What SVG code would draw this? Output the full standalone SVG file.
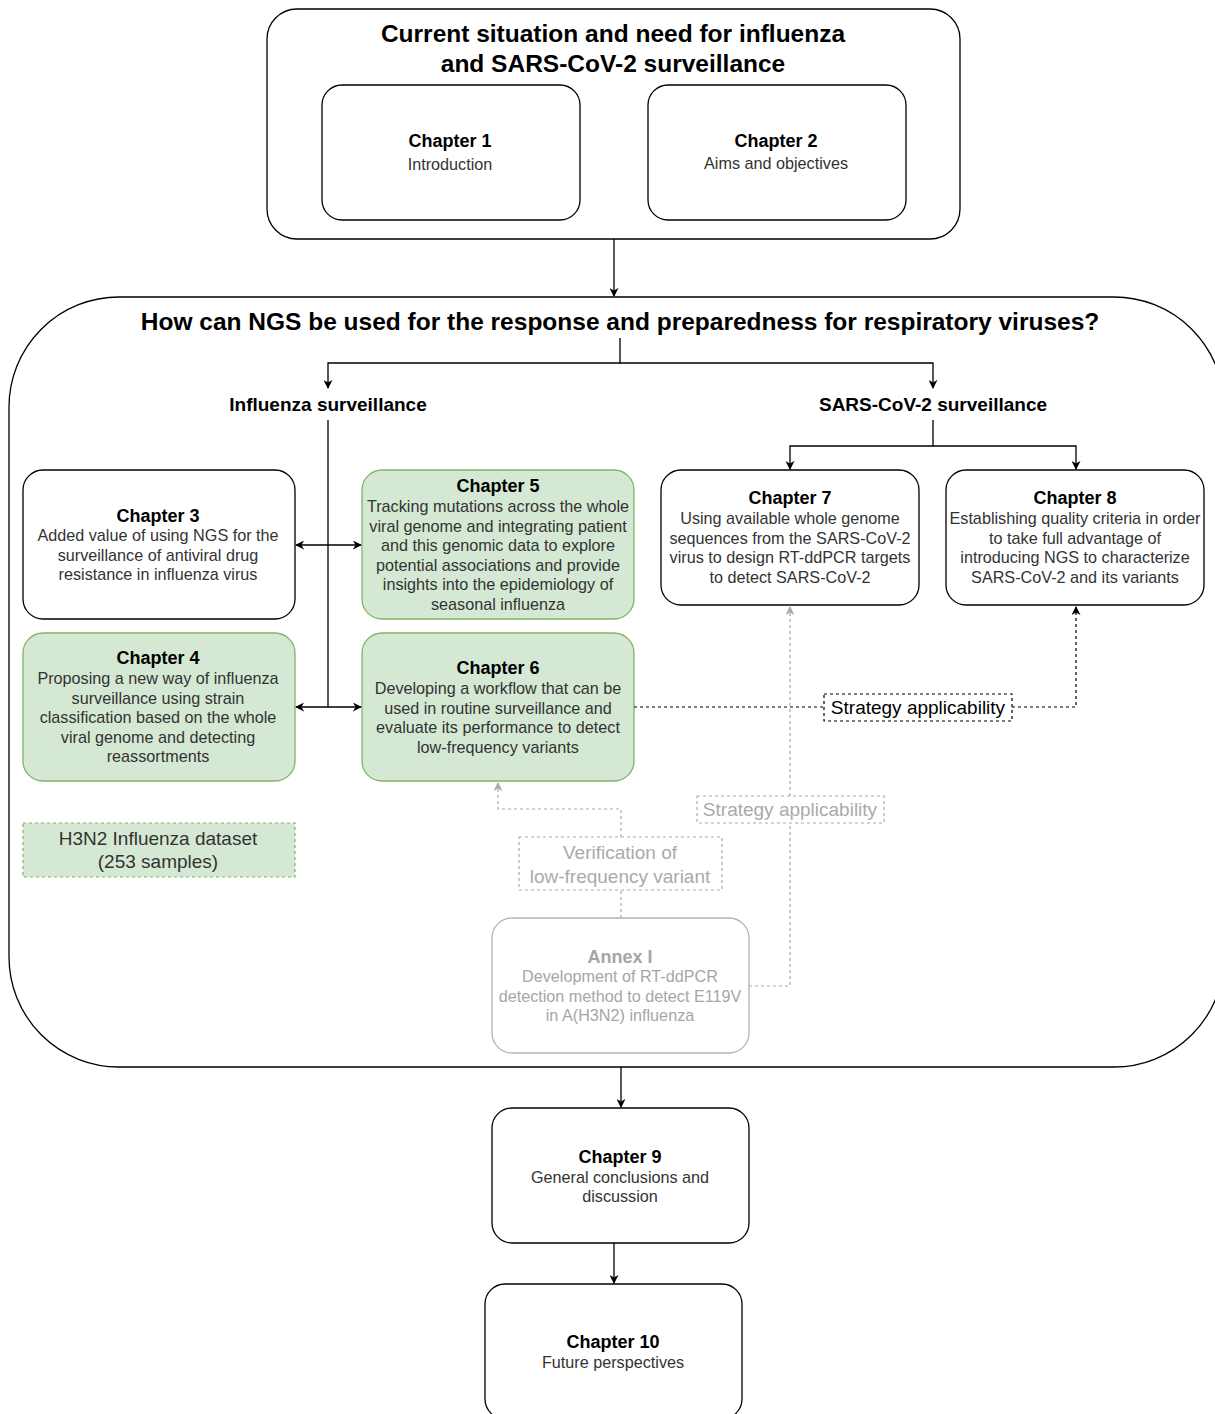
<svg xmlns="http://www.w3.org/2000/svg" width="1215" height="1414" viewBox="0 0 1215 1414">
<defs>
<style>
text{font-family:"Liberation Sans",Arial,sans-serif;text-anchor:middle}
.t{font-weight:bold;font-size:18px;fill:#000}
.b{font-size:16.2px;fill:#333}
.g{fill:#a6a6a6}
.big{font-weight:bold;font-size:24.5px;fill:#000}
.sec{font-weight:bold;font-size:19px;fill:#000}
.lb{font-size:19px}
.box{fill:#fff;stroke:#000;stroke-width:1.3}
.grn{fill:#d5e8d4;stroke:#82b366;stroke-width:1.3}
.gry{fill:#fff;stroke:#b3b3b3;stroke-width:1.3}
.ln{fill:none;stroke:#000;stroke-width:1.3}
.dk{fill:none;stroke:#000;stroke-width:1.2;stroke-dasharray:3 3}
.dg{fill:none;stroke:#aaa;stroke-width:1.2;stroke-dasharray:3 3}
</style>
<marker id="a" viewBox="0 0 10 10" refX="9" refY="5" markerWidth="9" markerHeight="9" markerUnits="userSpaceOnUse" orient="auto"><path d="M0,0 L10,5 L0,10 L3,5 Z" fill="#000"/></marker>
<marker id="as" viewBox="0 0 10 10" refX="1" refY="5" markerWidth="9" markerHeight="9" markerUnits="userSpaceOnUse" orient="auto"><path d="M10,0 L0,5 L10,10 L7,5 Z" fill="#000"/></marker>
<marker id="ag" viewBox="0 0 10 10" refX="9" refY="5" markerWidth="9" markerHeight="9" markerUnits="userSpaceOnUse" orient="auto"><path d="M0,0 L10,5 L0,10 L3,5 Z" fill="#aaa"/></marker>
</defs>

<g id="top">
<rect class="box" x="267" y="9" width="693" height="230" rx="30"/>
<text class="big" x="613" y="42">Current situation and need for influenza</text>
<text class="big" x="613" y="72">and SARS-CoV-2 surveillance</text>
</g>
<g id="ch1">
<rect class="box" x="322" y="85" width="258" height="135" rx="20"/>
<text class="t" x="450" y="147">Chapter 1</text>
<text class="b" x="450" y="170">Introduction</text>
</g>
<g id="ch2">
<rect class="box" x="648" y="85" width="258" height="135" rx="20"/>
<text class="t" x="776" y="147">Chapter 2</text>
<text class="b" x="776" y="169">Aims and objectives</text>
</g>

<g id="main">
<rect class="box" x="9" y="297" width="1215" height="770" rx="110"/>
<text class="big" x="620" y="330">How can NGS be used for the response and preparedness for respiratory viruses?</text>
</g>
<g id="influenza">
<text class="sec" x="328" y="411">Influenza surveillance</text>
</g>
<g id="sars">
<text class="sec" x="933" y="411">SARS-CoV-2 surveillance</text>
</g>

<g id="ch3">
<rect class="box" x="23" y="470" width="272" height="149" rx="20"/>
<text class="t" x="158" y="522">Chapter 3</text>
<text class="b" x="158" y="541">Added value of using NGS for the</text>
<text class="b" x="158" y="561">surveillance of antiviral drug</text>
<text class="b" x="158" y="580">resistance in influenza virus</text>
</g>
<g id="ch5">
<rect class="grn" x="362" y="470" width="272" height="149" rx="20"/>
<text class="t" x="498" y="492">Chapter 5</text>
<text class="b" x="498" y="512">Tracking mutations across the whole</text>
<text class="b" x="498" y="532">viral genome and integrating patient</text>
<text class="b" x="498" y="551">and this genomic data to explore</text>
<text class="b" x="498" y="571">potential associations and provide</text>
<text class="b" x="498" y="590">insights into the epidemiology of</text>
<text class="b" x="498" y="610">seasonal influenza</text>
</g>
<g id="ch4">
<rect class="grn" x="23" y="633" width="272" height="148" rx="20"/>
<text class="t" x="158" y="664">Chapter 4</text>
<text class="b" x="158" y="684">Proposing a new way of influenza</text>
<text class="b" x="158" y="704">surveillance using strain</text>
<text class="b" x="158" y="723">classification based on the whole</text>
<text class="b" x="158" y="743">viral genome and detecting</text>
<text class="b" x="158" y="762">reassortments</text>
</g>
<g id="ch6">
<rect class="grn" x="362" y="633" width="272" height="148" rx="20"/>
<text class="t" x="498" y="674">Chapter 6</text>
<text class="b" x="498" y="694">Developing a workflow that can be</text>
<text class="b" x="498" y="714">used in routine surveillance and</text>
<text class="b" x="498" y="733">evaluate its performance to detect</text>
<text class="b" x="498" y="753">low-frequency variants</text>
</g>
<g id="ch7">
<rect class="box" x="661" y="470" width="258" height="135" rx="20"/>
<text class="t" x="790" y="504">Chapter 7</text>
<text class="b" x="790" y="524">Using available whole genome</text>
<text class="b" x="790" y="544">sequences from the SARS-CoV-2</text>
<text class="b" x="790" y="563">virus to design RT-ddPCR targets</text>
<text class="b" x="790" y="583">to detect SARS-CoV-2</text>
</g>
<g id="ch8">
<rect class="box" x="946" y="470" width="258" height="135" rx="20"/>
<text class="t" x="1075" y="504">Chapter 8</text>
<text class="b" x="1075" y="524">Establishing quality criteria in order</text>
<text class="b" x="1075" y="544">to take full advantage of</text>
<text class="b" x="1075" y="563">introducing NGS to characterize</text>
<text class="b" x="1075" y="583">SARS-CoV-2 and its variants</text>
</g>
<g id="h3n2">
<rect x="23" y="823" width="272" height="54" fill="#d5e8d4" stroke="#82b366" stroke-width="1.2" stroke-dasharray="3 3"/>
<text class="lb" style="fill:#333" x="158" y="845">H3N2 Influenza dataset</text>
<text class="lb" style="fill:#333" x="158" y="868">(253 samples)</text>
</g>
<g id="annex">
<rect class="gry" x="492" y="918" width="257" height="135" rx="20"/>
<text class="t g" x="620" y="963">Annex I</text>
<text class="b g" x="620" y="982">Development of RT-ddPCR</text>
<text class="b g" x="620" y="1002">detection method to detect E119V</text>
<text class="b g" x="620" y="1021">in A(H3N2) influenza</text>
</g>
<g id="ch9">
<rect class="box" x="492" y="1108" width="257" height="135" rx="20"/>
<text class="t" x="620" y="1163">Chapter 9</text>
<text class="b" x="620" y="1183">General conclusions and</text>
<text class="b" x="620" y="1202">discussion</text>
</g>
<g id="ch10">
<rect class="box" x="485" y="1284" width="257" height="135" rx="20"/>
<text class="t" x="613" y="1348">Chapter 10</text>
<text class="b" x="613" y="1368">Future perspectives</text>
</g>

<g id="connectors">
<path class="ln" d="M614,239 V296" marker-end="url(#a)"/>
<path class="ln" d="M620,338 V363 H328 V388" marker-end="url(#a)"/>
<path class="ln" d="M620,363 H933 V388" marker-end="url(#a)"/>
<path class="ln" d="M328,420 V707"/>
<path class="ln" d="M296,545 H361" marker-start="url(#as)" marker-end="url(#a)"/>
<path class="ln" d="M296,707 H361" marker-start="url(#as)" marker-end="url(#a)"/>
<path class="ln" d="M933,420 V446 H790 V469" marker-end="url(#a)"/>
<path class="ln" d="M933,446 H1076 V469" marker-end="url(#a)"/>
<path class="dk" d="M634,707 H824"/>
<path class="dk" d="M1012,707 H1076 V607" marker-end="url(#a)"/>
<path class="dg" d="M749,986 H790 V823"/>
<path class="dg" d="M790,796 V607" marker-end="url(#ag)"/>
<path class="dg" d="M621,918 V890"/>
<path class="dg" d="M621,837 V809 H498 V783" marker-end="url(#ag)"/>
<path class="ln" d="M621,1067 V1107" marker-end="url(#a)"/>
<path class="ln" d="M614,1243 V1283" marker-end="url(#a)"/>
<g id="lbl1">
<rect x="824" y="694" width="188" height="27" fill="#fff" stroke="#000" stroke-width="1.2" stroke-dasharray="3 3"/>
<text class="lb" style="fill:#000" x="918" y="714">Strategy applicability</text>
</g>
<g id="lbl2">
<rect x="697" y="796" width="187" height="27" fill="#fff" stroke="#aaa" stroke-width="1.2" stroke-dasharray="3 3"/>
<text class="lb" style="fill:#aaa" x="790" y="816">Strategy applicability</text>
</g>
<g id="lbl3">
<rect x="519" y="837" width="203" height="53" fill="#fff" stroke="#aaa" stroke-width="1.2" stroke-dasharray="3 3"/>
<text class="lb" style="fill:#aaa" x="620" y="859">Verification of</text>
<text class="lb" style="fill:#aaa" x="620" y="883">low-frequency variant</text>
</g>
</g>
</svg>
